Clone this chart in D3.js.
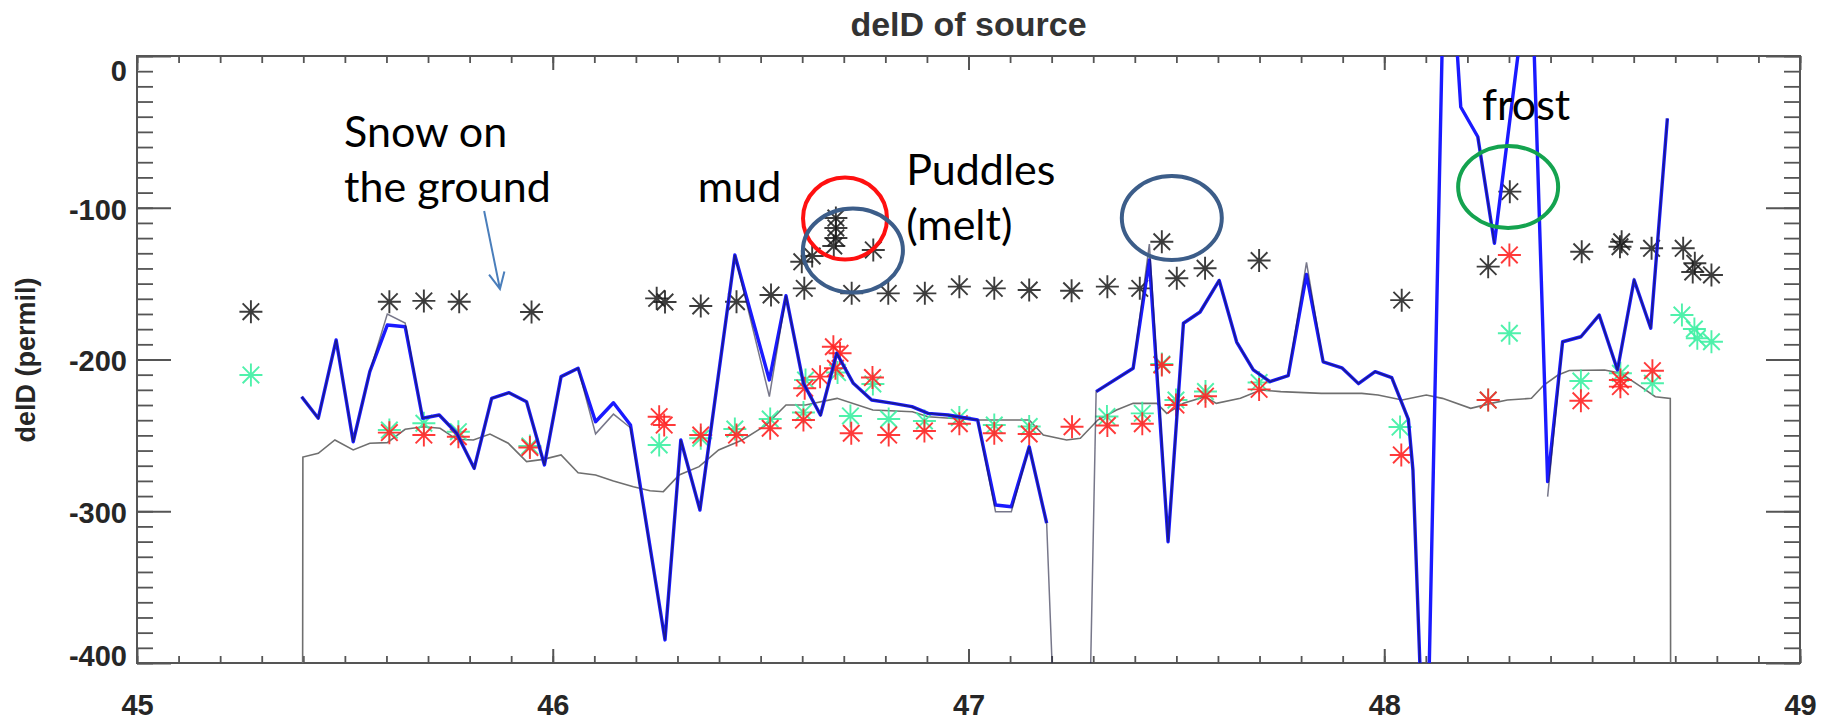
<!DOCTYPE html>
<html lang="en">
<head>
<meta charset="UTF-8">
<script src="https://d3js.org/d3.v7.min.js"></script>
<title>delD of source</title>
<style>
  body { margin: 0; background: #fff; }
  text.axis-text { font-family: 'Liberation Sans', Arial, sans-serif; font-weight: bold; fill: #262626; }
  text.note { font-family: Lato, sans-serif; fill: #000; }
</style>
</head>
<body>
<svg width="1834" height="720"></svg>
<script>
// ---- data (x = day, y = delD permil) ----
const xTicks = [45, 46, 47, 48, 49];
const yTicks = [-400, -300, -200, -100, 0];

// blue model line, null = gap
const blueLine = [
  [45.396,-224.5],[45.436,-238.7],[45.479,-187.1],[45.520,-254.2],[45.560,-208.0],[45.602,-177.3],
  [45.645,-178.4],[45.687,-238.7],[45.727,-236.6],[45.769,-248.6],[45.811,-271.7],[45.853,-225.6],
  [45.895,-221.9],[45.937,-227.8],[45.980,-269.5],[46.020,-211.3],[46.061,-205.8],[46.103,-241.0],
  [46.146,-228.5],[46.187,-243.2],[46.270,-384.8],[46.308,-253.0],[46.354,-299.2],[46.438,-131.1],
  [46.521,-213.5],[46.561,-158.0],[46.603,-215.7],[46.644,-236.6],[46.683,-195.9],[46.723,-215.7],
  [46.767,-226.7],[46.819,-228.9],[46.864,-231.1],[46.903,-235.5],[46.951,-236.6],[47.022,-239.9],
  [47.065,-295.9],[47.103,-297.0],[47.146,-257.5],[47.188,-307.9],
  [47.250,null],
  [47.307,-221.2],[47.396,-205.8],[47.435,-134.4],[47.480,-320.1],[47.517,-176.1],[47.557,-168.7],
  [47.603,-147.9],[47.645,-188.5],[47.685,-206.8],[47.725,-214.6],[47.769,-210.7],[47.813,-143.9],
  [47.853,-201.5],[47.898,-205.5],[47.938,-215.9],[47.978,-208.0],[48.018,-212.0],[48.058,-239.5],
  [48.069,-272.8],[48.100,-510],[48.148,120],[48.184,-33.6],[48.225,-53.2],[48.265,-123.4],
  [48.353,69.2],[48.393,-280.5],[48.429,-188.3],[48.473,-185.0],[48.517,-170.7],[48.561,-206.9],
  [48.601,-147.6],[48.641,-179.4],[48.681,-41.1]
];

// thin dark line drawn over the blue one
const darkLine = [
  [45.396,-224.5],[45.436,-238.7],[45.479,-187.1],[45.520,-254.2],[45.560,-208.0],[45.602,-170.0],
  [45.645,-176.0],[45.687,-238.7],[45.727,-236.6],[45.769,-248.6],[45.811,-271.7],[45.853,-225.6],
  [45.895,-221.9],[45.937,-227.8],[45.980,-269.5],[46.020,-211.3],[46.061,-205.8],[46.103,-249.0],
  [46.146,-236.0],[46.187,-245.0],[46.270,-384.8],[46.308,-253.0],[46.354,-299.2],[46.438,-131.1],
  [46.521,-224.5],[46.561,-158.0],[46.603,-215.7],[46.644,-236.6],[46.683,-195.9],[46.723,-215.7],
  [46.767,-226.7],[46.819,-228.9],[46.864,-231.1],[46.903,-235.5],[46.951,-236.6],[47.022,-239.9],
  [47.065,-300.3],[47.103,-300.3],[47.146,-257.5],[47.188,-307.9],[47.229,-600],[47.272,-700],
  [47.307,-221.2],[47.396,-205.8],[47.435,-124.0],[47.480,-320.1],[47.517,-176.1],[47.557,-168.7],
  [47.603,-147.9],[47.645,-188.5],[47.685,-206.8],[47.725,-214.6],[47.769,-210.7],[47.813,-136.0],
  [47.853,-201.5],[47.898,-205.5],[47.938,-215.9],[47.978,-208.0],[48.018,-212.0],[48.058,-239.5],
  [48.069,-272.8],[48.100,-510],[48.148,null],[48.184,null],[48.225,-53.2],[48.265,-123.4],
  [48.353,null],[48.393,-290.4],[48.429,-188.3],[48.473,-185.0],[48.517,-170.7],[48.561,-206.9],
  [48.601,-147.6],[48.641,-179.4],[48.681,-41.1]
];

// smooth grey line, -9999 = fill value at the ends
const greyLine = [
  [45.357,-9999],[45.399,-264.3],[45.436,-261.8],[45.476,-253.0],[45.520,-259.6],[45.560,-255.2],
  [45.602,-254.8],[45.645,-246.0],[45.689,-244.3],[45.729,-245.3],[45.769,-252.6],[45.809,-253.0],
  [45.849,-249.1],[45.893,-255.2],[45.937,-267.3],[45.977,-265.8],[46.020,-262.9],[46.061,-274.6],
  [46.103,-276.1],[46.146,-280.1],[46.194,-283.8],[46.234,-286.5],[46.266,-287.1],[46.304,-276.1],
  [46.352,-270.6],[46.399,-259.6],[46.456,-253.0],[46.513,-243.2],[46.561,-230.0],[46.608,-230.0],
  [46.684,-225.6],[46.770,-233.3],[46.865,-234.4],[46.903,-237.7],[47.017,-239.9],[47.146,-239.9],
  [47.180,-249.8],[47.236,-253.0],[47.269,-251.9],[47.311,-239.9],[47.356,-233.3],[47.396,-228.9],
  [47.453,-228.9],[47.477,-235.5],[47.517,-228.9],[47.569,-224.5],[47.596,-228.9],[47.654,-225.6],
  [47.703,-220.1],[47.751,-221.2],[47.849,-222.3],[47.946,-222.3],[47.985,-223.4],[48.043,-226.7],
  [48.101,-223.4],[48.140,-225.6],[48.208,-232.2],[48.257,-228.9],[48.296,-226.7],[48.354,-225.6],
  [48.384,-216.8],[48.418,-210.2],[48.445,-207.2],[48.530,-206.9],[48.569,-209.1],[48.617,-217.9],
  [48.652,-224.5],[48.688,-225.6],[48.730,-9999]
];

const blackStars = [
  [45.274,-168.5],[45.607,-161.9],[45.690,-161.4],[45.775,-161.9],[45.949,-168.7],[46.250,-159.7],
  [46.270,-162.1],[46.356,-164.7],[46.442,-161.9],[46.525,-157.5],[46.605,-153.1],[46.599,-135.6],
  [46.624,-131.8],[46.681,-106.8],[46.681,-113.3],[46.681,-119.9],[46.676,-125.2],[46.771,-127.8],
  [46.719,-156.4],[46.807,-156.4],[46.895,-156.4],[46.978,-152.0],[47.062,-153.1],[47.146,-154.2],
  [47.248,-154.7],[47.334,-152.0],[47.412,-153.1],[47.465,-122.4],[47.501,-146.5],[47.569,-139.9],
  [47.699,-134.8],[48.042,-160.9],[48.250,-138.8],[48.302,-89.4],[48.475,-129.0],[48.567,-125.7],
  [48.571,-122.4],[48.643,-126.7],[48.719,-126.7],[48.747,-136.6],[48.742,-142.3],[48.787,-144.3]
];

const redStars = [
  [45.607,-248.2],[45.690,-249.8],[45.773,-250.9],[45.945,-258.0],[46.256,-237.7],[46.268,-243.2],
  [46.356,-249.8],[46.442,-249.8],[46.523,-245.3],[46.603,-239.9],[46.606,-218.9],[46.643,-211.3],
  [46.675,-191.6],[46.691,-195.9],[46.680,-205.8],[46.769,-211.9],[46.718,-248.6],[46.808,-249.8],
  [46.894,-247.1],[46.978,-242.3],[47.062,-248.6],[47.146,-249.1],[47.249,-244.3],[47.334,-243.5],
  [47.418,-242.3],[47.465,-203.6],[47.499,-230.0],[47.570,-224.2],[47.699,-219.7],[48.041,-262.9],
  [48.250,-226.7],[48.301,-131.1],[48.473,-227.2],[48.568,-213.5],[48.568,-217.9],[48.645,-207.4]
];

const greenStars = [
  [45.274,-210.2],[45.607,-246.5],[45.690,-242.0],[45.773,-247.6],[45.945,-257.0],[46.256,-256.3],
  [46.356,-251.9],[46.438,-245.8],[46.523,-239.2],[46.603,-234.9],[46.608,-213.5],[46.685,-208.6],
  [46.770,-216.1],[46.716,-237.2],[46.808,-239.2],[46.894,-240.5],[46.978,-238.2],[47.062,-243.2],
  [47.146,-244.2],[47.333,-237.6],[47.418,-235.5],[47.465,-203.0],[47.499,-226.7],[47.570,-221.1],
  [47.699,-215.2],[48.038,-244.5],[48.250,-226.7],[48.301,-182.7],[48.473,-214.2],[48.568,-209.1],
  [48.645,-215.7],[48.716,-170.7],[48.746,-179.9],[48.753,-186.0],[48.787,-188.3]
];

// hand-drawn annotations, placed in data units
const notes = [
  {text: "Snow on", x: 45.498, y: -60.0},
  {text: "the ground", x: 45.498, y: -96.2},
  {text: "mud", x: 46.349, y: -96.2},
  {text: "Puddles", x: 46.850, y: -85.0},
  {text: "(melt)", x: 46.850, y: -121.3},
  {text: "frost", x: 48.235, y: -42.2}
];
const rings = [
  {x: 46.703, y: -107.1, rx: 42, ry: 41, color: "#ff1010"},
  {x: 46.722, y: -128.2, rx: 50, ry: 42, color: "#3c5d89"},
  {x: 47.489, y: -106.8, rx: 50, ry: 42, color: "#3c5d89"},
  {x: 48.298, y: -86.3, rx: 50, ry: 41, color: "#14a34f"}
];
const arrow = {x1: 45.835, y1: -102.1, x2: 45.873, y2: -153.5};

// ---- layout ----
const svg = d3.select("svg");
const pLeft = 137, pRight = 1800, pTop = 56, pBottom = 663;
const x = d3.scaleLinear().domain([45, 49]).range([pLeft, pRight]);
const y = d3.scaleLinear().domain([-400, 0]).range([pBottom, pTop]);

svg.append("defs").append("clipPath").attr("id", "plot")
  .append("rect").attr("x", pLeft).attr("y", pTop).attr("width", pRight - pLeft).attr("height", pBottom - pTop);

// title and axis titles
svg.append("text").attr("class", "axis-text")
  .attr("x", (pLeft + pRight) / 2).attr("y", 36).attr("text-anchor", "middle")
  .style("font-size", "34px").style("fill", "#333").text("delD of source");
svg.append("text").attr("class", "axis-text")
  .attr("transform", "translate(35,360) rotate(-90)").attr("text-anchor", "middle")
  .style("font-size", "27px").text("delD (permil)");

// axes: major + minor ticks pointing inward
const xMinor = d3.range(45, 49.001, 0.1);
const yMinor = d3.range(-400, 0.001, 10);

function styleAxis(g, w) {
  g.select(".domain").remove();
  g.selectAll("line").attr("stroke", "#555").attr("stroke-width", w);
}
svg.append("g").attr("transform", `translate(0,${pBottom})`)
  .call(d3.axisBottom(x).tickValues(xMinor).tickSize(-7).tickFormat(""))
  .call(g => styleAxis(g, 1.8));
svg.append("g").attr("transform", `translate(0,${pTop})`)
  .call(d3.axisTop(x).tickValues(xMinor).tickSize(-7).tickFormat(""))
  .call(g => styleAxis(g, 1.8));
svg.append("g").attr("transform", `translate(${pLeft},0)`)
  .call(d3.axisLeft(y).tickValues(yMinor).tickSize(-16).tickFormat(""))
  .call(g => styleAxis(g, 1.8));
svg.append("g").attr("transform", `translate(${pRight},0)`)
  .call(d3.axisRight(y).tickValues(yMinor).tickSize(-16).tickFormat(""))
  .call(g => styleAxis(g, 1.8));

const xAxis = svg.append("g").attr("transform", `translate(0,${pBottom})`)
  .call(d3.axisBottom(x).tickValues(xTicks).tickSize(-14).tickPadding(31).tickFormat(d => String(d)))
  .call(g => styleAxis(g, 2));
xAxis.selectAll("text").attr("class", "axis-text").attr("fill", null).style("font-size", "29px");
svg.append("g").attr("transform", `translate(0,${pTop})`)
  .call(d3.axisTop(x).tickValues(xTicks).tickSize(-14).tickFormat(""))
  .call(g => styleAxis(g, 2));
const yAxis = svg.append("g").attr("transform", `translate(${pLeft},0)`)
  .call(d3.axisLeft(y).tickValues(yTicks).tickSize(-34).tickPadding(10).tickFormat(d => String(d)))
  .call(g => styleAxis(g, 2));
yAxis.selectAll("text").attr("class", "axis-text").attr("fill", null).style("font-size", "29px")
  .attr("y", d => d === 0 ? 15 : d === -400 ? -7 : 2);
svg.append("g").attr("transform", `translate(${pRight},0)`)
  .call(d3.axisRight(y).tickValues(yTicks).tickSize(-34).tickFormat(""))
  .call(g => styleAxis(g, 2));

svg.append("rect").attr("x", pLeft).attr("y", pTop).attr("width", pRight - pLeft).attr("height", pBottom - pTop)
  .attr("fill", "none").attr("stroke", "#555").attr("stroke-width", 2);

// ---- marks ----
const line = d3.line().defined(d => d[1] !== null).x(d => x(d[0])).y(d => y(d[1]));
const plot = svg.append("g").attr("clip-path", "url(#plot)");

plot.append("path").datum(greyLine).attr("d", line)
  .attr("fill", "none").attr("stroke", "#6f6f6f").attr("stroke-width", 1.6);

const r = 11.5, a = r * 0.72;
const star = `M${-r},0H${r}M0,${-r}V${r}M${-a},${-a}L${a},${a}M${-a},${a}L${a},${-a}`;
function drawStars(data, color, op) {
  plot.append("g").selectAll("path").data(data).join("path")
    .attr("transform", d => `translate(${x(d[0])},${y(d[1])})`)
    .attr("d", star).attr("fill", "none")
    .attr("stroke", color).attr("stroke-width", 1.9).attr("stroke-opacity", op);
}
drawStars(greenStars, "#3cf0a2", 0.9);
drawStars(redStars, "#ff2424", 0.9);
drawStars(blackStars, "#1a1a1a", 0.85);

plot.append("path").datum(blueLine).attr("d", line)
  .attr("fill", "none").attr("stroke", "#1a1aff").attr("stroke-width", 3.4)
  .attr("stroke-linejoin", "round");
plot.append("path").datum(darkLine).attr("d", line)
  .attr("fill", "none").attr("stroke", "#1c1c3c").attr("stroke-width", 1.5)
  .attr("stroke-opacity", 0.6);

// ---- annotations ----
svg.append("g").selectAll("ellipse").data(rings).join("ellipse")
  .attr("cx", d => x(d.x)).attr("cy", d => y(d.y)).attr("rx", d => d.rx).attr("ry", d => d.ry)
  .attr("fill", "none").attr("stroke", d => d.color).attr("stroke-width", 4);

svg.append("g").selectAll("text").data(notes).join("text")
  .attr("class", "note").attr("x", d => x(d.x)).attr("y", d => y(d.y))
  .style("font-size", "43px").text(d => d.text);

const ax1 = x(arrow.x1), ay1 = y(arrow.y1), ax2 = x(arrow.x2), ay2 = y(arrow.y2);
const ang = Math.atan2(ay2 - ay1, ax2 - ax1), hl = 18;
svg.append("path")
  .attr("d", `M${ax1},${ay1}L${ax2},${ay2}` +
    `M${ax2 - hl * Math.cos(ang - 0.45)},${ay2 - hl * Math.sin(ang - 0.45)}L${ax2},${ay2}` +
    `L${ax2 - hl * Math.cos(ang + 0.45)},${ay2 - hl * Math.sin(ang + 0.45)}`)
  .attr("fill", "none").attr("stroke", "#4a7ebb").attr("stroke-width", 2);
</script>
</body>
</html>
